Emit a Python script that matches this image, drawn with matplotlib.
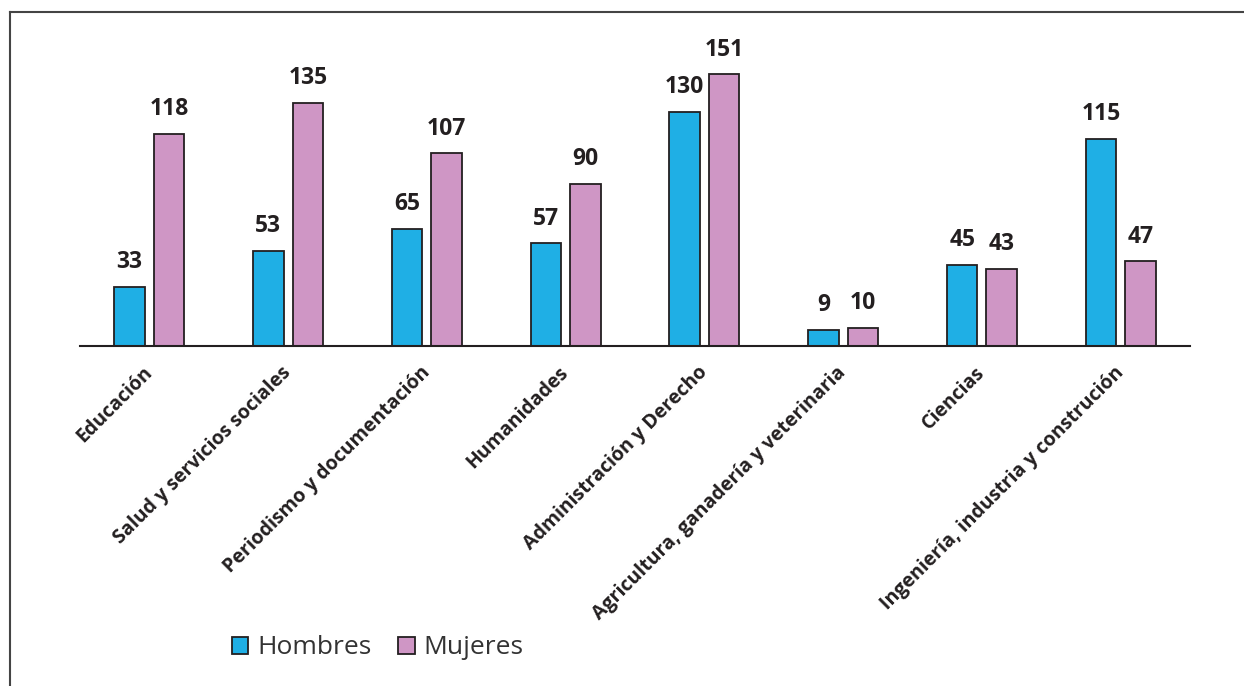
import matplotlib.pyplot as plt
import numpy as np
from matplotlib.lines import Line2D

categories = ['Educación', 'Salud y servicios sociales', 'Periodismo y documentación',
              'Humanidades', 'Administración y Derecho', 'Agricultura, ganadería y veterinaria',
              'Ciencias', 'Ingeniería, industria y construción']
hombres = [33, 53, 65, 57, 130, 9, 45, 115]
mujeres = [118, 135, 107, 90, 151, 10, 43, 47]

plt.rcParams['font.family'] = ['Open Sans', 'DejaVu Sans']

BLUE = '#1fafe5'
PINK = '#cf96c5'
DARK = '#231f20'

fig = plt.figure(figsize=(12.44, 6.86), dpi=100)
ax = fig.add_axes([80 / 1244, 1 - 346 / 686, 1110 / 1244, 316 / 686])

x = np.arange(len(categories))
w = 0.22
off = 0.142
b1 = ax.bar(x - off, hombres, w, color=BLUE, edgecolor=DARK, linewidth=1.3, label='Hombres')
b2 = ax.bar(x + off, mujeres, w, color=PINK, edgecolor=DARK, linewidth=1.3, label='Mujeres')

for bars in (b1, b2):
    for rect in bars:
        ax.annotate(f'{int(rect.get_height())}',
                    (rect.get_x() + rect.get_width() / 2, rect.get_height()),
                    xytext=(0, 9), textcoords='offset points',
                    ha='center', va='bottom', fontsize=16.5, fontweight='bold', color=DARK)

ax.set_xlim(-0.5, len(categories) - 0.5)
ax.set_ylim(0, 175.5)
ax.set_yticks([])
for s in ['top', 'right', 'left']:
    ax.spines[s].set_visible(False)
ax.spines['bottom'].set_color(DARK)
ax.spines['bottom'].set_linewidth(1.5)

ax.set_xticks(x)
ax.set_xticklabels(categories, rotation=45, ha='right', va='center',
                   rotation_mode='anchor', fontsize=14, fontweight='bold', color=DARK)
ax.tick_params(axis='x', length=0, pad=17)

fig.legend(handles=[b1, b2], labels=['Hombres', 'Mujeres'], loc='center left',
           bbox_to_anchor=(232 / 1244, 1 - 648 / 686), ncol=2, frameon=False,
           borderpad=0, borderaxespad=0, fontsize=19, handlelength=0.62, handleheight=0.62,
           handletextpad=0.35, columnspacing=1.0, labelcolor='#333333')

# frame around the chart (right and bottom edges fall outside the image)
fig.add_artist(Line2D([10 / 1244, 10 / 1244], [0, 1 - 12 / 686], transform=fig.transFigure,
                      color='#444444', linewidth=1.5))
fig.add_artist(Line2D([10 / 1244, 1], [1 - 12 / 686, 1 - 12 / 686], transform=fig.transFigure,
                      color='#444444', linewidth=1.5))

fig.savefig('out.png', dpi=100)
